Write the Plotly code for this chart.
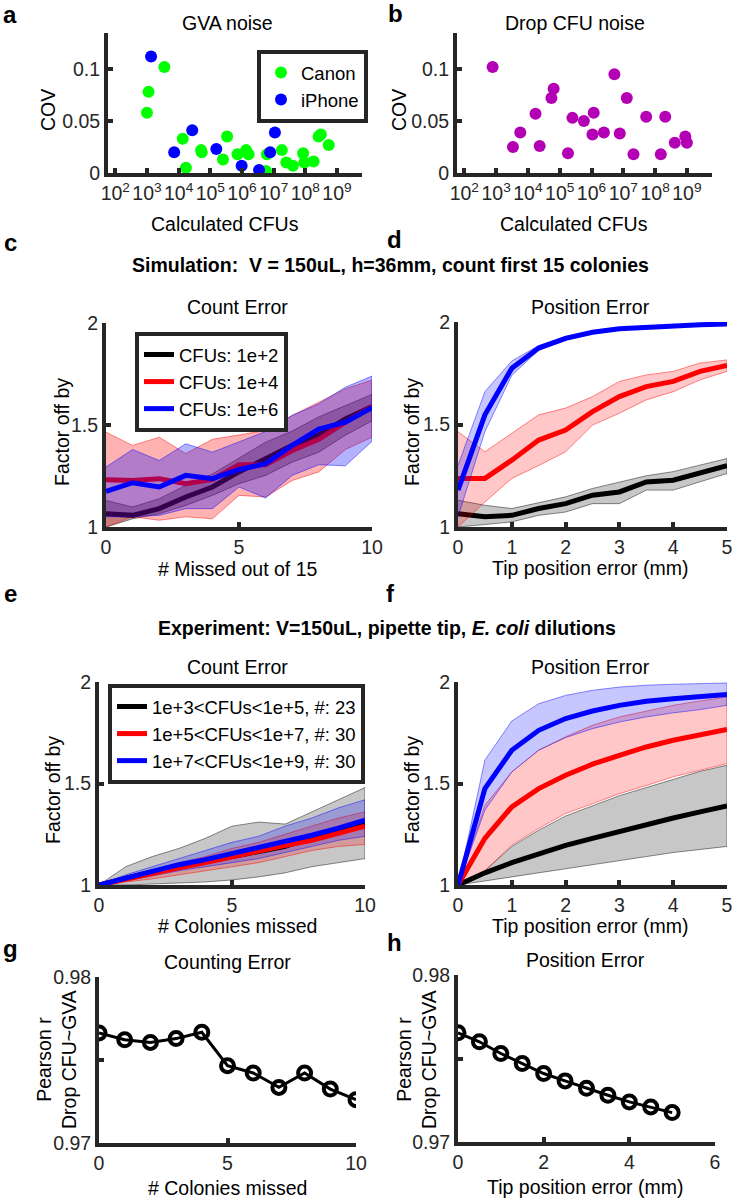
import plotly.graph_objects as go

W, H = 734, 1200
FONT = "Liberation Sans, Arial, Helvetica, sans-serif"
AX = "#262626"
FS = 19.5
LFS = 18.5

# ---------------- data ----------------
# panel a: GVA noise (log10 calculated CFUs, COV)
canon_log_cfu = [3.00, 3.05, 3.55, 4.13, 4.23, 4.71, 4.73, 5.40, 5.53, 5.86, 6.13, 6.21,
                 6.76, 6.79, 7.26, 7.40, 7.61, 7.93, 7.97, 8.26, 8.42, 8.49, 8.56, 8.74]
canon_cov = [0.058, 0.078, 0.102, 0.033, 0.005, 0.022, 0.020, 0.013, 0.035, 0.018, 0.022, 0.018,
             0.002, 0.018, 0.022, 0.010, 0.007, 0.019, 0.010, 0.011, 0.035, 0.037, 0.054, 0.027]
iphone_log_cfu = [3.13, 3.86, 4.43, 5.19, 5.99, 6.54, 6.89, 7.04]
iphone_cov = [0.112, 0.020, 0.041, 0.023, 0.007, 0.003, 0.020, 0.039]

# panel b: Drop CFU noise
drop_log_cfu = [2.89, 3.53, 3.76, 4.24, 4.37, 4.74, 4.81, 5.26, 5.40, 5.76, 6.03, 6.07,
                6.39, 6.72, 6.89, 7.11, 7.32, 7.72, 8.18, 8.32, 8.62, 8.95, 9.00]
drop_cov = [0.102, 0.025, 0.039, 0.057, 0.026, 0.072, 0.081, 0.019, 0.053, 0.050, 0.037, 0.058,
            0.039, 0.095, 0.038, 0.072, 0.018, 0.054, 0.018, 0.054, 0.029, 0.035, 0.029]

decade_exponents = [2, 3, 4, 5, 6, 7, 8, 9]

# panel c: simulation, count error
c_missed = [0, 1, 2, 3, 4, 5, 6, 7, 8, 9, 10]
c_k = [1.065, 1.057, 1.09, 1.147, 1.196, 1.27, 1.335, 1.40, 1.45, 1.53, 1.59]
c_k_hi = [1.13, 1.098, 1.139, 1.204, 1.26, 1.34, 1.416, 1.47, 1.54, 1.595, 1.65]
c_k_lo = [1.0, 1.04, 1.065, 1.106, 1.155, 1.212, 1.253, 1.318, 1.367, 1.45, 1.52]
c_r = [1.232, 1.228, 1.237, 1.212, 1.233, 1.305, 1.305, 1.375, 1.43, 1.514, 1.59]
c_r_hi = [1.465, 1.40, 1.44, 1.36, 1.43, 1.45, 1.473, 1.547, 1.612, 1.677, 1.72]
c_r_lo = [1.0, 1.05, 1.033, 1.05, 1.04, 1.155, 1.147, 1.228, 1.27, 1.38, 1.44]
c_b = [1.175, 1.217, 1.196, 1.253, 1.237, 1.282, 1.31, 1.40, 1.48, 1.514, 1.585]
c_b_hi = [1.294, 1.38, 1.326, 1.408, 1.367, 1.416, 1.468, 1.547, 1.604, 1.685, 1.74]
c_b_lo = [1.05, 1.05, 1.057, 1.09, 1.09, 1.196, 1.142, 1.253, 1.305, 1.30, 1.42]

# panel d: simulation, position error
d_tip = [0, 0.5, 1, 1.5, 2, 2.5, 3, 3.5, 4, 4.5, 5]
d_b = [1.18, 1.547, 1.775, 1.873, 1.92, 1.95, 1.967, 1.975, 1.982, 1.987, 1.99]
d_b_hi = [1.30, 1.66, 1.81, 1.885, 1.93, 1.957, 1.972, 1.98, 1.986, 1.99, 1.994]
d_b_lo = [1.05, 1.465, 1.74, 1.862, 1.912, 1.943, 1.962, 1.97, 1.978, 1.984, 1.987]
d_r = [1.237, 1.237, 1.326, 1.424, 1.473, 1.563, 1.636, 1.685, 1.71, 1.759, 1.788]
d_r_hi = [1.465, 1.367, 1.457, 1.547, 1.58, 1.636, 1.71, 1.742, 1.759, 1.80, 1.815]
d_r_lo = [1.0, 1.122, 1.237, 1.30, 1.367, 1.497, 1.555, 1.62, 1.66, 1.718, 1.759]
d_k = [1.065, 1.05, 1.057, 1.09, 1.114, 1.155, 1.171, 1.22, 1.228, 1.261, 1.299]
d_k_hi = [1.13, 1.106, 1.09, 1.119, 1.147, 1.188, 1.22, 1.25, 1.27, 1.302, 1.334]
d_k_lo = [1.0, 1.012, 1.025, 1.057, 1.073, 1.114, 1.114, 1.18, 1.18, 1.22, 1.261]

# panel e: experiment, count error
e_missed = [0, 1, 2, 3, 4, 5, 6, 7, 8, 9, 10]
e_k = [1.0, 1.035, 1.065, 1.09, 1.115, 1.14, 1.165, 1.19, 1.235, 1.27, 1.30]
e_k_hi = [1.0, 1.09, 1.14, 1.18, 1.23, 1.29, 1.31, 1.30, 1.36, 1.42, 1.48]
e_k_lo = [1.0, 1.0, 1.005, 1.01, 1.015, 1.025, 1.04, 1.06, 1.09, 1.11, 1.13]
e_r = [1.0, 1.03, 1.055, 1.085, 1.11, 1.14, 1.165, 1.195, 1.22, 1.255, 1.29]
e_r_hi = [1.0, 1.04, 1.07, 1.11, 1.14, 1.18, 1.21, 1.25, 1.29, 1.33, 1.36]
e_r_lo = [1.0, 1.015, 1.03, 1.05, 1.07, 1.09, 1.11, 1.14, 1.17, 1.19, 1.20]
e_b = [1.0, 1.035, 1.065, 1.10, 1.125, 1.155, 1.18, 1.21, 1.245, 1.28, 1.32]
e_b_hi = [1.0, 1.05, 1.09, 1.13, 1.17, 1.21, 1.24, 1.29, 1.33, 1.38, 1.42]
e_b_lo = [1.0, 1.02, 1.045, 1.07, 1.09, 1.11, 1.13, 1.16, 1.19, 1.22, 1.24]

# panel f: experiment, position error
f_tip = [0, 0.5, 1, 1.5, 2, 2.5, 3, 3.5, 4, 4.5, 5]
f_b = [1.0, 1.475, 1.664, 1.762, 1.82, 1.857, 1.885, 1.905, 1.918, 1.93, 1.939]
f_b_hi = [1.0, 1.615, 1.808, 1.893, 1.934, 1.959, 1.975, 1.984, 1.989, 1.992, 1.995]
f_b_lo = [1.0, 1.369, 1.557, 1.664, 1.726, 1.77, 1.803, 1.828, 1.848, 1.864, 1.885]
f_r = [1.0, 1.23, 1.385, 1.475, 1.541, 1.595, 1.639, 1.68, 1.713, 1.741, 1.766]
f_r_hi = [1.0, 1.393, 1.557, 1.664, 1.73, 1.787, 1.828, 1.857, 1.885, 1.907, 1.926]
f_r_lo = [1.0, 1.07, 1.197, 1.279, 1.352, 1.40, 1.45, 1.49, 1.533, 1.566, 1.598]
f_k = [1.0, 1.06, 1.11, 1.155, 1.195, 1.23, 1.265, 1.30, 1.33, 1.36, 1.39]
f_k_hi = [1.0, 1.07, 1.19, 1.27, 1.34, 1.39, 1.44, 1.48, 1.52, 1.56, 1.59]
f_k_lo = [1.0, 1.02, 1.04, 1.06, 1.08, 1.10, 1.12, 1.14, 1.16, 1.175, 1.19]

# panel g / h: Pearson r
g_missed = [0, 1, 2, 3, 4, 5, 6, 7, 8, 9, 10]
g_r = [0.97663, 0.97622, 0.97606, 0.97629, 0.97667, 0.97466, 0.97422, 0.97335, 0.97422, 0.97325, 0.97261]
h_tip = [0, 0.5, 1, 1.5, 2, 2.5, 3, 3.5, 4, 4.5, 5]
h_r = [0.97654, 0.97600, 0.97530, 0.97470, 0.97410, 0.97366, 0.97322, 0.97280, 0.97240, 0.97210, 0.97176]

sim_labels = ["CFUs: 1e+2", "CFUs: 1e+4", "CFUs: 1e+6"]
exp_labels = ["1e+3&lt;CFUs&lt;1e+5, #: 23", "1e+5&lt;CFUs&lt;1e+7, #: 30", "1e+7&lt;CFUs&lt;1e+9, #: 30"]

# ---------------- figure ----------------
fig = go.Figure()


def dx(a, b):
    return [a / W, b / W]


def dy(top, bot):
    return [1 - bot / H, 1 - top / H]


def axis(n, xd, yd, xr, yr, xtv, xtt, ytv, ytt, xtype="linear"):
    common = dict(showline=True, linewidth=4, linecolor=AX, ticks="inside", ticklen=5,
                  tickwidth=4, tickcolor=AX, showgrid=False, zeroline=False, mirror=False,
                  automargin=False, tickangle=0,
                  tickfont=dict(size=FS, color=AX, family=FONT))
    s = "" if n == 1 else str(n)
    fig.update_layout(**{
        "xaxis" + s: dict(domain=xd, range=xr, type=xtype, anchor="y" + s, tickvals=xtv,
                          ticktext=xtt, **common),
        "yaxis" + s: dict(domain=yd, range=yr, anchor="x" + s, tickvals=ytv, ticktext=ytt,
                          **common),
    })


def band(n, x, lo, hi, rgb, alpha):
    s = "" if n == 1 else str(n)
    xs = list(x) + list(x)[::-1]
    ys = list(hi) + list(lo)[::-1]
    fig.add_trace(go.Scatter(x=xs, y=ys, fill="toself", mode="lines",
                             fillcolor=f"rgba({rgb},{alpha})",
                             line=dict(color=f"rgba({rgb},0.45)", width=1),
                             showlegend=False, hoverinfo="skip", xaxis="x" + s, yaxis="y" + s))


def mean_line(n, x, y, color, name=None, legend=None):
    s = "" if n == 1 else str(n)
    fig.add_trace(go.Scatter(x=x, y=y, mode="lines", line=dict(color=color, width=5),
                             name=name, showlegend=name is not None, legend=legend,
                             xaxis="x" + s, yaxis="y" + s))


# a
fig.add_trace(go.Scatter(x=[10 ** v for v in canon_log_cfu], y=canon_cov, mode="markers",
                         marker=dict(color="#00ff00", size=12), name="Canon", legend="legend",
                         xaxis="x", yaxis="y"))
fig.add_trace(go.Scatter(x=[10 ** v for v in iphone_log_cfu], y=iphone_cov, mode="markers",
                         marker=dict(color="#0000ff", size=12), name="iPhone", legend="legend",
                         xaxis="x", yaxis="y"))
# b
fig.add_trace(go.Scatter(x=[10 ** v for v in drop_log_cfu], y=drop_cov, mode="markers",
                         marker=dict(color="#b400b4", size=12), showlegend=False,
                         xaxis="x2", yaxis="y2"))

dec_vals = [10 ** e for e in decade_exponents]
dec_text = [f"10<sup>{e}</sup>" for e in decade_exponents]
axis(1, dx(108, 362), dy(33, 173), [1.77, 9.79], [0, 0.1346], dec_vals, dec_text,
     [0, 0.05, 0.1], ["0", "0.05", "0.1"], xtype="log")
axis(2, dx(457, 712), dy(33, 173), [1.77, 9.79], [0, 0.1346], dec_vals, dec_text,
     [0, 0.05, 0.1], ["0", "0.05", "0.1"], xtype="log")

# c
AC = 0.3
band(3, c_missed, c_k_lo, c_k_hi, "0,0,0", AC)
mean_line(3, c_missed, c_k, "#000000", sim_labels[0], "legend2")
band(3, c_missed, c_r_lo, c_r_hi, "255,0,0", AC)
mean_line(3, c_missed, c_r, "#ff0000", sim_labels[1], "legend2")
band(3, c_missed, c_b_lo, c_b_hi, "0,0,255", AC)
mean_line(3, c_missed, c_b, "#0000ff", sim_labels[2], "legend2")
axis(3, dx(106, 372), dy(323, 527), [0, 10], [1, 2], [0, 5, 10], ["0", "5", "10"],
     [1, 1.5, 2], ["1", "1.5", "2"])

# d
AD = 0.22
band(4, d_tip, d_k_lo, d_k_hi, "0,0,0", AD)
mean_line(4, d_tip, d_k, "#000000")
band(4, d_tip, d_r_lo, d_r_hi, "255,0,0", AD)
mean_line(4, d_tip, d_r, "#ff0000")
band(4, d_tip, d_b_lo, d_b_hi, "0,0,255", AD)
mean_line(4, d_tip, d_b, "#0000ff")
axis(4, dx(458, 727), dy(322, 527), [0, 5], [1, 2], [0, 1, 2, 3, 4, 5],
     ["0", "1", "2", "3", "4", "5"], [1, 1.5, 2], ["1", "1.5", "2"])

# e
band(5, e_missed, e_k_lo, e_k_hi, "0,0,0", AD)
band(5, e_missed, e_r_lo, e_r_hi, "255,0,0", AD)
band(5, e_missed, e_b_lo, e_b_hi, "0,0,255", AD)
mean_line(5, e_missed, e_k, "#000000", exp_labels[0], "legend3")
mean_line(5, e_missed, e_r, "#ff0000", exp_labels[1], "legend3")
mean_line(5, e_missed, e_b, "#0000ff", exp_labels[2], "legend3")
axis(5, dx(99, 365), dy(682, 885), [0, 10], [1, 2], [0, 5, 10], ["0", "5", "10"],
     [1, 1.5, 2], ["1", "1.5", "2"])

# f
band(6, f_tip, f_k_lo, f_k_hi, "0,0,0", AD)
band(6, f_tip, f_r_lo, f_r_hi, "255,0,0", AD)
band(6, f_tip, f_b_lo, f_b_hi, "0,0,255", AD)
mean_line(6, f_tip, f_k, "#000000")
mean_line(6, f_tip, f_r, "#ff0000")
mean_line(6, f_tip, f_b, "#0000ff")
axis(6, dx(458, 727), dy(682, 885), [0, 5], [1, 2], [0, 1, 2, 3, 4, 5],
     ["0", "1", "2", "3", "4", "5"], [1, 1.5, 2], ["1", "1.5", "2"])

# g
fig.add_trace(go.Scatter(x=g_missed, y=g_r, mode="lines+markers",
                         line=dict(color="#000000", width=3),
                         marker=dict(symbol="circle-open", size=13, color="#000000",
                                     line=dict(width=4, color="#000000")),
                         showlegend=False, xaxis="x7", yaxis="y7"))
axis(7, dx(99, 356), dy(977, 1143), [0, 10], [0.97, 0.98], [0, 5, 10], ["0", "5", "10"],
     [0.97, 0.975, 0.98], ["0.97", "", "0.98"])

# h
fig.add_trace(go.Scatter(x=h_tip, y=h_r, mode="lines+markers",
                         line=dict(color="#000000", width=3),
                         marker=dict(symbol="circle-open", size=13, color="#000000",
                                     line=dict(width=4, color="#000000")),
                         showlegend=False, xaxis="x8", yaxis="y8"))
axis(8, dx(458, 715), dy(975, 1142), [0, 6], [0.97, 0.98], [0, 2, 4, 6], ["0", "2", "4", "6"],
     [0.97, 0.975, 0.98], ["0.97", "", "0.98"])

# ---------------- annotations ----------------
anns = []


def ann(text, px, py, size=FS, angle=0, xanchor="center", color="#000000"):
    anns.append(dict(text=text, x=px / W, y=1 - py / H, xref="paper", yref="paper",
                     showarrow=False, textangle=angle, xanchor=xanchor, yanchor="middle",
                     font=dict(size=size, family=FONT, color=color)))


ann("<b>a</b>", 10, 15, size=24)
ann("<b>b</b>", 395, 13, size=24)
ann("<b>c</b>", 10, 242, size=24)
ann("<b>d</b>", 394, 240, size=24)
ann("<b>e</b>", 10, 593, size=24)
ann("<b>f</b>", 390, 593, size=24)
ann("<b>g</b>", 10, 948, size=24)
ann("<b>h</b>", 394, 942, size=24)

ann("GVA noise", 227, 23)
ann("Drop CFU noise", 575, 23)
ann("COV", 48, 110, angle=-90)
ann("COV", 399, 110, angle=-90)
ann("Calculated CFUs", 225, 224)
ann("Calculated CFUs", 574, 224)

ann("<b>Simulation:  V = 150uL, h=36mm, count first 15 colonies</b>", 390, 265)
ann("Count Error", 237, 307)
ann("Position Error", 590, 307)
ann("Factor off by", 62, 432, angle=-90)
ann("Factor off by", 412, 432, angle=-90)
ann("# Missed out of 15", 237, 569)
ann("Tip position error (mm)", 590, 568)

ann("<b>Experiment: V=150uL, pipette tip, <i>E. coli</i> dilutions</b>", 387, 628)
ann("Count Error", 237, 667)
ann("Position Error", 590, 667)
ann("Factor off by", 53, 790, angle=-90)
ann("Factor off by", 412, 790, angle=-90)
ann("# Colonies missed", 237, 926)
ann("Tip position error (mm)", 590, 926)

ann("Counting Error", 227, 962)
ann("Position Error", 585, 960)
ann("Pearson r<br>Drop CFU~GVA", 56, 1060, angle=-90)
ann("Pearson r<br>Drop CFU~GVA", 416, 1060, angle=-90)
ann("# Colonies missed", 227, 1188)
ann("Tip position error (mm)", 585, 1187)

leg_common = dict(bgcolor="white", bordercolor=AX, borderwidth=4,
                  font=dict(size=LFS, family=FONT, color="#000000"),
                  xanchor="left", yanchor="top", tracegroupgap=0, itemclick=False,
                  itemwidth=30)

fig.update_layout(
    width=W, height=H,
    margin=dict(l=0, r=0, t=0, b=0, pad=0, autoexpand=False),
    paper_bgcolor="white", plot_bgcolor="white",
    font=dict(family=FONT, size=FS, color="#000000"),
    annotations=anns,
    hovermode=False,
    legend=dict(x=257 / W, y=1 - 50 / H, **leg_common),
    legend2=dict(x=135 / W, y=1 - 332 / H, **leg_common),
    legend3=dict(x=108 / W, y=1 - 684 / H, **leg_common),
)

fig.write_html("out.html", config={"displayModeBar": False},
               post_script="document.body.style.margin='0px';document.body.style.overflow='hidden';")
